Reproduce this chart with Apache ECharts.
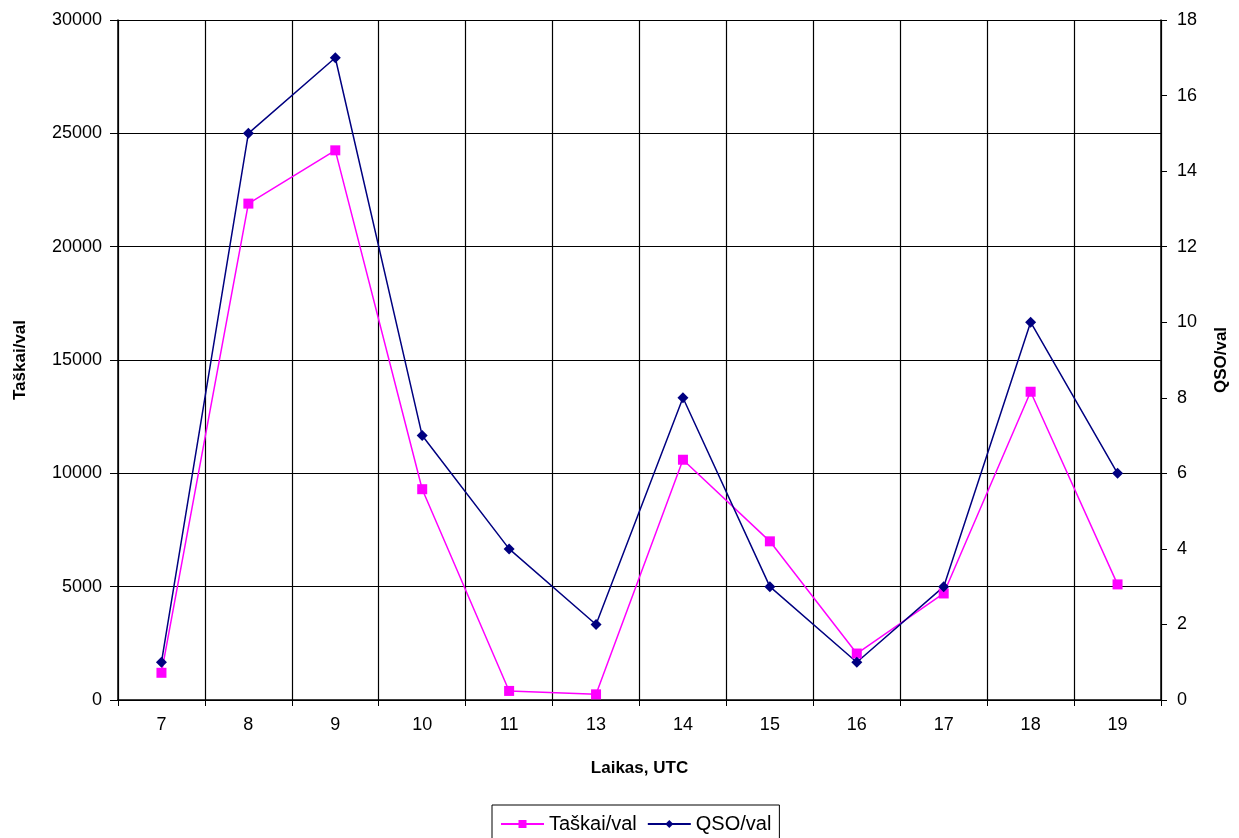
<!DOCTYPE html>
<html><head><meta charset="utf-8">
<script src="https://cdn.jsdelivr.net/npm/echarts@6/dist/echarts.min.js"></script>
<style>html,body{margin:0;padding:0;background:#fff}#c{width:1239px;height:838px}</style>
</head><body><div id="c"></div>
<script>
const hours = ['7','8','9','10','11','13','14','15','16','17','18','19'];
const taskai = [1200, 21900, 24250, 9300, 400, 250, 10600, 7000, 2050, 4700, 13600, 5100];
const qso = [1, 15, 17, 7, 4, 2, 8, 3, 1, 3, 10, 6];

const font = 'Liberation Sans, Arial, sans-serif';
const chart = echarts.init(document.getElementById('c'));
chart.setOption({
  backgroundColor: '#fff',
  animation: false,
  textStyle: {fontFamily: font},
  grid: {left: 118, right: 78, top: 20, bottom: 138, containLabel: false, outerBoundsMode: 'none'},
  legend: {
    top: 805, left: 492,
    borderColor: '#000', borderWidth: 1, padding: [9, 8, 10, 8],
    itemWidth: 43, itemHeight: 10, itemGap: 10,
    textStyle: {fontFamily: font, fontSize: 20, color: '#000'},
    data: ['Taškai/val', 'QSO/val']
  },
  xAxis: {
    type: 'category', data: hours, boundaryGap: true,
    name: 'Laikas, UTC', nameLocation: 'middle', nameGap: 60,
    nameTextStyle: {fontFamily: font, fontSize: 17, fontWeight: 'bold', color: '#000'},
    axisLine: {lineStyle: {color: '#000', width: 1.5}},
    axisTick: {show: true, length: 6, lineStyle: {color: '#000'}},
    axisLabel: {fontFamily: font, fontSize: 18, color: '#000', margin: 16},
    splitLine: {show: true, lineStyle: {color: '#000', width: 1.2}}
  },
  yAxis: [{
    type: 'value', min: 0, max: 30000, interval: 5000,
    name: 'Taškai/val', nameLocation: 'middle', nameGap: 89, nameRotate: 90,
    nameTextStyle: {fontFamily: font, fontSize: 17, fontWeight: 'bold', color: '#000'},
    axisLine: {show: true, lineStyle: {color: '#000', width: 1.5}},
    axisTick: {show: true, length: 8, lineStyle: {color: '#000'}},
    axisLabel: {fontFamily: font, fontSize: 18, color: '#000', margin: 16, formatter: v => String(v)},
    splitLine: {show: true, lineStyle: {color: '#000', width: 1.2}}
  }, {
    type: 'value', min: 0, max: 18, interval: 2, position: 'right',
    name: 'QSO/val', nameLocation: 'middle', nameGap: 52, nameRotate: 90,
    nameTextStyle: {fontFamily: font, fontSize: 17, fontWeight: 'bold', color: '#000'},
    axisLine: {show: true, lineStyle: {color: '#000', width: 1.5}},
    axisTick: {show: true, length: 6, lineStyle: {color: '#000'}},
    axisLabel: {fontFamily: font, fontSize: 18, color: '#000', margin: 16, formatter: v => String(v)},
    splitLine: {show: false}
  }],
  series: [{
    name: 'Taškai/val', type: 'line', yAxisIndex: 0, data: taskai,
    symbol: 'rect', symbolSize: 10,
    lineStyle: {color: '#ff00ff', width: 1.5},
    itemStyle: {color: '#ff00ff'}
  }, {
    name: 'QSO/val', type: 'line', yAxisIndex: 1, data: qso,
    symbol: 'diamond', symbolSize: 11,
    lineStyle: {color: '#000080', width: 1.5},
    itemStyle: {color: '#000080'}
  }]
});
</script></body></html>
